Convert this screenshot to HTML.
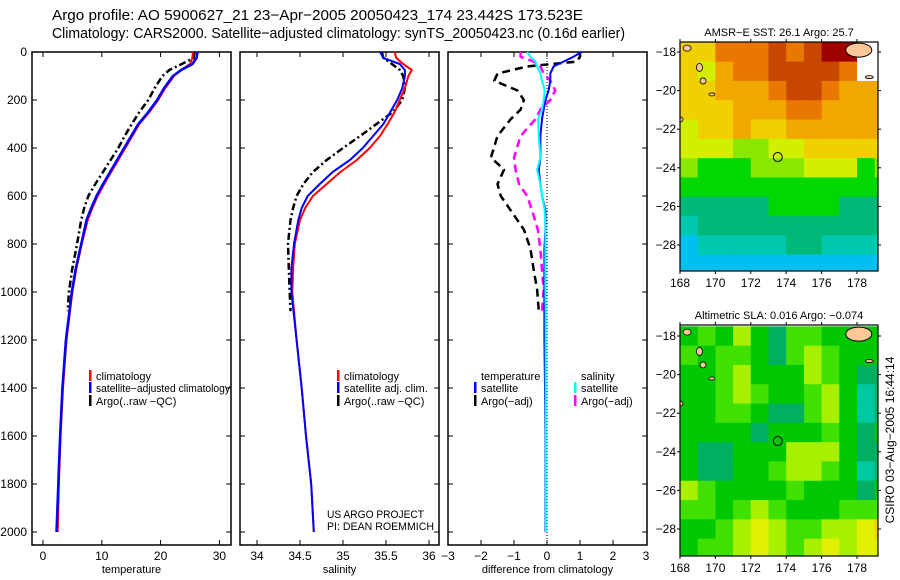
<!DOCTYPE html>
<html><head><meta charset="utf-8"><style>
html,body{margin:0;padding:0;background:#fff;}
svg{display:block;font-family:"Liberation Sans",sans-serif;}
</style></head><body>
<svg id="fig" width="900" height="580" viewBox="0 0 900 580" xmlns="http://www.w3.org/2000/svg">
<text x="52" y="20" font-size="15" textLength="531" lengthAdjust="spacingAndGlyphs">Argo profile: AO 5900627_21 23−Apr−2005 20050423_174 23.442S 173.523E</text>
<text x="52" y="38" font-size="15" textLength="573" lengthAdjust="spacingAndGlyphs">Climatology: CARS2000. Satellite−adjusted climatology: synTS_20050423.nc (0.16d earlier)</text>
<text transform="translate(894,440) rotate(-90)" text-anchor="middle" font-size="12">CSIRO 03−Aug−2005 16:44:14</text>
</svg>
<script>
// ---------- data ----------
const depthT = [0,25,50,75,100,150,200,250,300,350,400,450,500,550,600,650,700,800,900,1000,1200,1400,1600,1800,2000];
const climT = [25.5,25.4,25.0,23.5,22.3,20.8,19.6,18.1,16.4,15.2,14.0,12.8,11.6,10.4,9.3,8.4,7.6,6.6,5.7,5.0,4.0,3.4,3.0,2.7,2.5];
const satT = [26.3,26.1,25.4,23.5,22.1,20.6,19.4,17.9,16.2,15.0,13.8,12.6,11.4,10.2,9.1,8.2,7.4,6.5,5.6,4.9,3.9,3.3,2.9,2.6,2.3];
const depthA = [0,25,50,75,100,150,200,250,300,350,400,450,500,550,600,650,700,800,900,1000,1080];
const argoT = [25.8,25.6,23.6,21.5,20.3,19.0,17.9,16.4,15.1,13.9,12.8,11.5,10.2,8.9,7.7,7.0,6.5,5.8,5.0,4.4,4.2];
const climS = [35.60,35.62,35.70,35.80,35.76,35.72,35.66,35.60,35.52,35.43,35.31,35.16,34.97,34.81,34.65,34.56,34.50,34.44,34.42,34.41,34.46,34.52,34.57,34.63,34.66];
const satS = [35.43,35.47,35.66,35.72,35.72,35.69,35.63,35.55,35.47,35.35,35.23,35.08,34.88,34.73,34.59,34.52,34.48,34.43,34.40,34.40,34.46,34.52,34.57,34.63,34.66];
const argoS = [35.45,35.47,35.57,35.66,35.70,35.72,35.69,35.58,35.39,35.20,35.00,34.81,34.65,34.54,34.46,34.42,34.39,34.36,34.37,34.38,34.39];
const depthD = [0,20,40,60,90,120,160,200,240,280,350,440,490,550,600,660,740,820,910,990,1080,1200,1400,1600,1800,2000];
const depthDA = [0,20,40,60,90,120,160,200,240,280,350,440,490,550,600,660,740,820,910,990,1080];
const dTsat = [1.05,0.8,0.5,0.2,0.1,0.1,0.05,-0.05,-0.1,-0.15,-0.2,-0.2,-0.25,-0.2,-0.15,-0.05,-0.05,-0.08,-0.08,-0.08,-0.08,-0.08,-0.06,-0.05,-0.05,-0.05];
const dTargo = [1.0,1.0,0.9,-0.6,-1.5,-1.6,-0.9,-0.7,-0.8,-1.1,-1.5,-1.7,-1.3,-1.5,-1.4,-1.1,-0.7,-0.5,-0.4,-0.3,-0.25];
const dSsat = [-0.6,-0.5,-0.35,-0.3,-0.2,-0.15,-0.07,-0.1,-0.15,-0.27,-0.25,-0.2,-0.3,-0.2,-0.15,-0.07,-0.05,-0.05,-0.05,-0.05,-0.04,-0.04,-0.04,-0.04,-0.04,-0.04];
const dSargo = [-0.8,-0.8,-0.4,-0.2,-0.1,0.1,0.25,0.1,-0.2,-0.35,-0.8,-1.0,-0.95,-0.85,-0.6,-0.45,-0.28,-0.2,-0.15,-0.1,-0.15];
const depthTicks = [0,200,400,600,800,1000,1200,1400,1600,1800,2000];
const tempTicks = [0,10,20,30];
const salTicks = [34,34.5,35,35.5,36];
const diffTicks = [-3,-2,-1,0,1,2,3];
const sstGrid = [
[7,7,9,9,9,10,9,10,11,11,-1,-1],
[7,6,8,9,9,10,10,10,10,9,-1,-1],
[7,7,8,8,8,9,10,10,9,8,8,8],
[7,7,7,8,8,8,9,9,8,8,8,8],
[6,7,7,8,7,7,8,8,8,8,8,8],
[6,6,6,5,5,6,6,7,7,7,7,7],
[5,4,4,4,5,5,5,6,6,6,4,5],
[4,4,4,4,4,4,4,4,4,4,4,4],
[3,3,3,3,3,4,4,4,4,3,3,3],
[2,3,3,3,3,3,3,3,3,3,3,3],
[1,2,2,2,2,2,3,3,2,2,2,2],
[1,1,1,1,1,1,1,1,1,1,1,1]];
const slaGrid = [
[2,3,2,4,2,1,3,3,2,2,2,2],
[3,2,3,3,2,1,3,4,3,2,2,2],
[2,2,3,4,2,2,2,4,3,2,1,1],
[2,2,3,4,3,2,2,3,4,2,0,1],
[2,2,3,3,2,1,1,3,4,2,0,1],
[2,2,2,2,1,2,2,2,3,2,1,2],
[2,1,1,2,2,2,4,4,4,2,1,1],
[2,1,1,2,2,3,4,4,3,2,0,1],
[4,3,2,2,2,2,3,2,2,2,1,2],
[3,3,2,3,4,3,2,2,2,3,3,3],
[2,2,3,4,5,4,3,3,4,4,5,6],
[2,3,3,4,5,4,3,4,5,4,5,5]];
const lonTicks = [168,170,172,174,176,178];
const latTicks = [-18,-20,-22,-24,-26,-28];
const floatLon = 173.523, floatLat = -23.442;

const sstPal = ['#0078f0','#00c0f0','#00c8b0','#00b878','#00d800','#88e800','#d0f000','#f0d000','#f0a800','#e87800','#c84800','#a00000'];
const slaPal = ['#00c8a0','#00b060','#00c800','#40e000','#a8f000','#e0f000','#f0d000'];

// ---------- helpers ----------
const NS='http://www.w3.org/2000/svg';
const svg=document.getElementById('fig');
function mk(tag,attrs,parent){const e=document.createElementNS(NS,tag);for(const k in attrs)e.setAttribute(k,attrs[k]);(parent||svg).appendChild(e);return e;}
const yD = d => 52 + d*0.24;
const FB = 545;

function panel(x0,x1,xScale,ticks,fmt,label,name){
  const g=mk('g',{});
  
  
  const fr=mk('rect',{x:x0,y:52,width:x1-x0,height:FB-52,fill:'none',stroke:'#000','stroke-width':1.5},g);
  
  
  depthTicks.forEach(d=>{
    mk('line',{x1:x0,x2:x0+5,y1:yD(d),y2:yD(d),stroke:'#000'},g);
    mk('line',{x1:x1-5,x2:x1,y1:yD(d),y2:yD(d),stroke:'#000'},g);
  });
  ticks.forEach(v=>{
    const x=xScale(v);
    if(x>x0+1&&x<x1-1){
      mk('line',{x1:x,x2:x,y1:FB,y2:FB-5,stroke:'#000'},g);
      mk('line',{x1:x,x2:x,y1:52,y2:57,stroke:'#000'},g);
    }
    const t=mk('text',{x:x,y:560,'font-size':12,'text-anchor':'middle'},g);
    t.textContent=fmt(v);
    
    
  });
  const lt=mk('text',{x:(x0+x1)/2,y:573,'font-size':11,'text-anchor':'middle'},g);
  lt.textContent=label;
  
  
  return g;
}
function line(xs,ds,xScale,color,w,dash,name,parent){
  const pts=xs.map((v,i)=>xScale(v).toFixed(1)+','+yD(ds[i]).toFixed(1)).join(' ');
  const p=mk('polyline',{points:pts,fill:'none',stroke:color,'stroke-width':w,'stroke-dasharray':dash||'none','stroke-linejoin':'round'},parent);
  
  
  return p;
}
function legend(x,y,color,txt,parent){
  if(color){mk('rect',{x:x,y:y-10,width:2.5,height:11,fill:color},parent);}
  const t=mk('text',{x:x+7,y:y,'font-size':11},parent);
  t.textContent=txt;
  
  
  return t;
}

// depth labels
depthTicks.forEach(d=>{
  const t=mk('text',{x:27,y:yD(d)+4,'font-size':12,'text-anchor':'end'});
  t.textContent=d;
  
  
});

// panel 1 temperature
const xT = v => 43 + v*5.88;
const p1=panel(32,231,xT,tempTicks,v=>v,'temperature','temperature-panel');
line(argoT,depthA,xT,'#000',2.5,'7,3,2,3','argo-temperature-line',p1);
line(climT,depthT,xT,'#f00',2,null,'climatology-temperature-line',p1);
line(satT,depthT,xT,'#00f',2.5,null,'satellite-temperature-line',p1);
legend(89,380,'#f00','climatology',p1);
const lg=legend(89,392,'#00f','satellite−adjusted climatology',p1);
lg.setAttribute('textLength','134');
lg.setAttribute('lengthAdjust','spacingAndGlyphs');
legend(89,405,'#000','Argo(..raw −QC)',p1);

// panel 2 salinity
const xS = v => 257 + (v-34)*86;
const p2=panel(240,439,xS,salTicks,v=>v,'salinity','salinity-panel');
line(argoS,depthA,xS,'#000',2.5,'7,3,2,3','argo-salinity-line',p2);
line(climS,depthT,xS,'#f00',2,null,'climatology-salinity-line',p2);
line(satS,depthT,xS,'#00f',2,null,'satellite-salinity-line',p2);
legend(337,380,'#f00','climatology',p2);
legend(337,392,'#00f','satellite adj. clim.',p2);
legend(337,405,'#000','Argo(..raw −QC)',p2);
const c1=mk('text',{x:327,y:518,'font-size':11,textLength:97,lengthAdjust:'spacingAndGlyphs'},p2);c1.textContent='US ARGO PROJECT';


const c2=mk('text',{x:327,y:530,'font-size':11,textLength:107,lengthAdjust:'spacingAndGlyphs'},p2);c2.textContent='PI: DEAN ROEMMICH';



// panel 3 differences
const xDf = v => 547 + v*33;
const p3=panel(448,647,xDf,diffTicks,v=>v<0?'−'+(-v):v,'difference from climatology','difference-panel');
const zl=mk('line',{x1:xDf(0),x2:xDf(0),y1:52,y2:FB,stroke:'#000','stroke-dasharray':'1,2'},p3);


line(dTargo,depthDA,xDf,'#000',2.5,'8,5','argo-temperature-diff-line',p3);
line(dSargo,depthDA,xDf,'#f0f',2.5,'8,5','argo-salinity-diff-line',p3);
line(dTsat,depthD,xDf,'#00f',2,null,'satellite-temperature-diff-line',p3);
line(dSsat,depthD,xDf,'#0ff',2,null,'satellite-salinity-diff-line',p3);
legend(474,380,null,'temperature',p3);
legend(474,392,'#00f','satellite',p3);
legend(474,405,'#000','Argo(−adj)',p3);
legend(574,380,null,'salinity',p3);
legend(574,392,'#0ff','satellite',p3);
legend(574,405,'#f0f','Argo(−adj)',p3);

// ---------- maps ----------
function map(top,bot,lat18,lat28,grid,pal,title,name){
  const g=mk('g',{});
  
  
  const x0=680,x1=878;
  const lx = lon => 680 + (lon-168)*17.7;
  const ly = lat => lat18 + (-18-lat)*(lat28-lat18)/10;
  const cid='clip'+name;
  const cp=mk('clipPath',{id:cid},g);
  mk('rect',{x:x0,y:top,width:x1-x0,height:bot-top},cp);
  const cg=mk('g',{'clip-path':'url(#'+cid+')'},g);
  grid.forEach((row,r)=>row.forEach((v,c)=>{
    const lat=-17.5-r, lon=168+c;
    const cell=mk('rect',{x:lx(lon),y:ly(lat),width:18.2,height:(lat28-lat18)/10+0.5,fill:v<0?'#fff':pal[v]},cg);
    
    
  }));
  const fiji=mk('ellipse',{cx:lx(178.1),cy:ly(-17.9),rx:13,ry:7,fill:'#ffc896',stroke:'#000','stroke-width':1},cg);
  
  
  [[168.4,-17.8,4,3],[169.1,-18.8,3,4],[169.3,-19.5,3,3],[169.8,-20.2,3,1.5],[168,-21.5,3,2.5],[178.7,-19.3,4,1.5]].forEach(a=>{
    const isl=mk('ellipse',{cx:lx(a[0]),cy:ly(a[1]),rx:a[2],ry:a[3],fill:'#ffc896',stroke:'#000','stroke-width':0.8},cg);
    
    
  });
  const fl=mk('circle',{cx:lx(floatLon),cy:ly(floatLat),r:4.5,fill:'none',stroke:'#000','stroke-width':1},g);
  
  
  const fr=mk('rect',{x:x0,y:top,width:x1-x0,height:bot-top,fill:'none',stroke:'#000','stroke-width':1.2},g);
  
  
  latTicks.forEach(l=>{
    const y=ly(l);
    mk('line',{x1:x0-3,x2:x0,y1:y,y2:y,stroke:'#000'},g);
    mk('line',{x1:x1,x2:x1+3,y1:y,y2:y,stroke:'#000'},g);
    const t=mk('text',{x:676,y:y+4,'font-size':12,'text-anchor':'end'},g);
    t.textContent='−'+(-l);
    
    
  });
  lonTicks.forEach(l=>{
    const x=lx(l);
    mk('line',{x1:x,x2:x,y1:bot,y2:bot+3,stroke:'#000'},g);
    mk('line',{x1:x,x2:x,y1:top-3,y2:top,stroke:'#000'},g);
    const t=mk('text',{x:x,y:bot+16,'font-size':12,'text-anchor':'middle'},g);
    t.textContent=l;
    
    
  });
  const tt=mk('text',{x:(x0+x1)/2,y:top-6,'font-size':11,'text-anchor':'middle'},g);
  tt.textContent=title;
  
  
}
map(42,271,52,245,sstGrid,sstPal,'AMSR−E SST: 26.1 Argo: 25.7','sst-map');
map(325,556,336,529,slaGrid,slaPal,'Altimetric SLA: 0.016 Argo: −0.074','sla-map');
</script>
</body></html>
